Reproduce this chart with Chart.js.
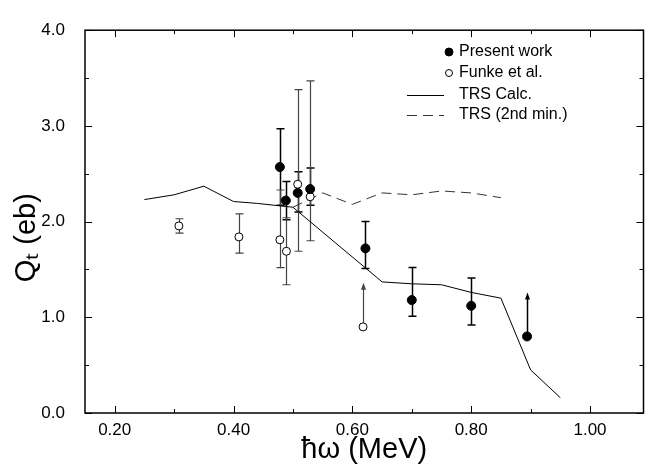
<!DOCTYPE html>
<html><head><meta charset="utf-8">
<script src="https://cdn.jsdelivr.net/npm/chart.js@4/dist/chart.umd.min.js"></script>
<style>html,body{margin:0;padding:0;background:#fff}#wrap{width:649px;height:465px;position:relative}</style>
</head><body><div id="wrap"><canvas id="c"></canvas></div>
<script>
// ---- tick values ----
const xTickValues = [0.2, 0.4, 0.6, 0.8, 1.0];
const xMinorTickValues = [0.3, 0.5, 0.7, 0.9];
const yTickValues = [0, 1, 2, 3, 4];
const yMinorTickValues = [0.5, 1.5, 2.5, 3.5];

// ---- TRS Calc. (solid line) ----
const trsCalcX = [0.25, 0.30, 0.35, 0.40, 0.44, 0.50, 0.65, 0.70, 0.75, 0.80, 0.85, 0.90, 0.95];
const trsCalcY = [2.23, 2.28, 2.37, 2.21, 2.19, 2.15, 1.37, 1.35, 1.34, 1.26, 1.20, 0.45, 0.16];

// ---- TRS (2nd min.) (dashed line) ----
const trs2X = [0.50, 0.55, 0.60, 0.65, 0.70, 0.75, 0.80, 0.85];
const trs2Y = [2.15, 2.30, 2.18, 2.30, 2.28, 2.32, 2.30, 2.25];

// ---- Present work (filled) ----
const presentX    = [0.478, 0.488, 0.508, 0.529, 0.622, 0.700, 0.800, 0.894];
const presentY    = [2.57, 2.22, 2.30, 2.34, 1.72, 1.18, 1.12, 0.80];
const presentLow  = [2.17, 2.02, 2.10, 2.17, 1.51, 1.01, 0.92, null];
const presentHigh = [2.97, 2.42, 2.52, 2.56, 2.00, 1.52, 1.41, null];
const presentLowerLimitTo = [null, null, null, null, null, null, null, 1.26];

// ---- Funke et al. (open) ----
const funkeX    = [0.308, 0.409, 0.478, 0.489, 0.508, 0.529, 0.618];
const funkeY    = [1.955, 1.84, 1.81, 1.69, 2.39, 2.26, 0.90];
const funkeLow  = [1.88, 1.67, 1.52, 1.34, 1.69, 1.80, null];
const funkeHigh = [2.03, 2.08, 2.33, 2.04, 3.38, 3.47, null];
const funkeLowerLimitTo = [null, null, null, null, null, null, 1.36];

const FONT = "'Liberation Sans', Arial, Helvetica, sans-serif";
const pts = (xs, ys) => xs.map((v, i) => ({x: v, y: ys[i]}));

const decor = {
  id: 'decor',
  beforeDatasetsDraw(chart) {
    const {ctx, scales: {x, y}} = chart;
    chart.data.datasets.forEach(ds => {
      if (!ds.errLow) return;
      ctx.save();
      ctx.strokeStyle = ds.errColor; ctx.fillStyle = ds.errColor; ctx.lineWidth = ds.errWidth;
      ds.data.forEach((p, i) => {
        const px = Math.round(x.getPixelForValue(p.x)) + 0.5;
        if (ds.errLow[i] != null) {
          const y1 = y.getPixelForValue(ds.errLow[i]), y2 = y.getPixelForValue(ds.errHigh[i]);
          ctx.beginPath();
          ctx.moveTo(px, y1); ctx.lineTo(px, y2);
          ctx.moveTo(px - 4, y1); ctx.lineTo(px + 4, y1);
          ctx.moveTo(px - 4, y2); ctx.lineTo(px + 4, y2);
          ctx.stroke();
        }
        if (ds.limitTo && ds.limitTo[i] != null) {
          const y0 = y.getPixelForValue(p.y), y2 = y.getPixelForValue(ds.limitTo[i]);
          ctx.beginPath(); ctx.moveTo(px, y0); ctx.lineTo(px, y2 + 5); ctx.stroke();
          ctx.beginPath(); ctx.moveTo(px, y2); ctx.lineTo(px - 2.5, y2 + 7); ctx.lineTo(px + 2.5, y2 + 7); ctx.closePath(); ctx.fill();
        }
      });
      ctx.restore();
    });
  },
  afterDraw(chart) {
    const {ctx, chartArea: a, scales: {x, y}} = chart;
    ctx.save();
    ctx.strokeStyle = '#000'; ctx.lineWidth = 1.5;
    ctx.strokeRect(a.left, a.top, a.right - a.left, a.bottom - a.top);
    ctx.lineWidth = 1;
    ctx.beginPath();
    const xt = (v, len) => { const p = Math.round(x.getPixelForValue(v)) + 0.5;
      ctx.moveTo(p, a.bottom); ctx.lineTo(p, a.bottom - len);
      ctx.moveTo(p, a.top); ctx.lineTo(p, a.top + len); };
    const yt = (v, len) => { const p = Math.round(y.getPixelForValue(v)) + 0.5;
      ctx.moveTo(a.left, p); ctx.lineTo(a.left + len, p);
      ctx.moveTo(a.right, p); ctx.lineTo(a.right - len, p); };
    xTickValues.forEach(v => xt(v, 7)); xMinorTickValues.forEach(v => xt(v, 4));
    yTickValues.forEach(v => yt(v, 7)); yMinorTickValues.forEach(v => yt(v, 4));
    ctx.stroke();
    // legend
    const lx = 449, tx = 459, rows = [52, 73, 95, 115];
    ctx.font = '16px ' + FONT; ctx.textBaseline = 'middle'; ctx.fillStyle = '#000';
    const items = [0, 1, 2, 3].map(i => chart.data.datasets[i]);
    items.forEach((ds, k) => {
      const yy = rows[k];
      ctx.save();
      if (ds.showLine) {
        ctx.strokeStyle = ds.borderColor; ctx.lineWidth = 1.2; ctx.setLineDash(ds.borderDash || []);
        ctx.beginPath(); ctx.moveTo(407, yy + 0.5); ctx.lineTo(444, yy + 0.5); ctx.stroke();
      } else {
        ctx.beginPath(); ctx.arc(lx, yy, ds.pointRadius - 0.5, 0, Math.PI * 2);
        ctx.fillStyle = ds.pointBackgroundColor; ctx.fill();
        ctx.lineWidth = 1; ctx.strokeStyle = '#000'; ctx.stroke();
      }
      ctx.restore();
      ctx.fillText(ds.label, tx, yy);
    });
    ctx.restore();
  }
};

new Chart(document.getElementById('c'), {
  type: 'scatter',
  data: {
    datasets: [
      {label: 'Present work', data: pts(presentX, presentY), pointRadius: 4.5, pointBackgroundColor: '#000',
       pointBorderColor: '#000', pointBorderWidth: 1, showLine: false, order: 0,
       errLow: presentLow, errHigh: presentHigh, limitTo: presentLowerLimitTo, errColor: '#000', errWidth: 1.5},
      {label: 'Funke et al.', data: pts(funkeX, funkeY), pointRadius: 4, pointBackgroundColor: '#fff',
       pointBorderColor: '#000', pointBorderWidth: 1, showLine: false, order: 1,
       errLow: funkeLow, errHigh: funkeHigh, limitTo: funkeLowerLimitTo, errColor: '#444', errWidth: 1.2},
      {label: 'TRS Calc.', data: pts(trsCalcX, trsCalcY), showLine: true, borderColor: '#000', borderWidth: 1,
       pointRadius: 0, tension: 0, order: 3},
      {label: 'TRS (2nd min.)', data: pts(trs2X, trs2Y), showLine: true, borderColor: '#333', borderWidth: 1,
       borderDash: [10, 6], pointRadius: 0, tension: 0, order: 2}
    ]
  },
  options: {
    responsive: true, maintainAspectRatio: false, animation: false,
    layout: {padding: {top: 16, right: 1, left: 0, bottom: 0}},
    plugins: {legend: {display: false}, tooltip: {enabled: false}},
    scales: {
      x: {
        type: 'linear', min: 0.15, max: 1.09,
        afterFit: s => { s.height = 52; },
        afterBuildTicks: s => { s.ticks = xTickValues.map(v => ({value: v})); },
        grid: {display: false, drawTicks: false},
        border: {display: false},
        ticks: {color: '#000', font: {family: FONT, size: 17}, padding: 7, maxRotation: 0,
                callback: v => v.toFixed(2)},
        title: {display: true, text: 'ħω (MeV)', color: '#000', font: {family: FONT, size: 29}, padding: {top: 0, bottom: -2}}
      },
      y: {
        type: 'linear', min: 0, max: 4,
        afterFit: s => { s.width = 85; },
        afterBuildTicks: s => { s.ticks = yTickValues.map(v => ({value: v})); },
        grid: {display: false, drawTicks: false},
        border: {display: false},
        ticks: {color: '#000', font: {family: FONT, size: 17}, padding: 20, callback: v => v.toFixed(1)},
        title: {display: true, text: 'Qₜ (eb)\u00a0\u00a0\u00a0\u00a0', color: '#000', font: {family: FONT, size: 29}, padding: {top: 10, bottom: 0}}
      }
    }
  },
  plugins: [decor]
});
</script></body></html>
